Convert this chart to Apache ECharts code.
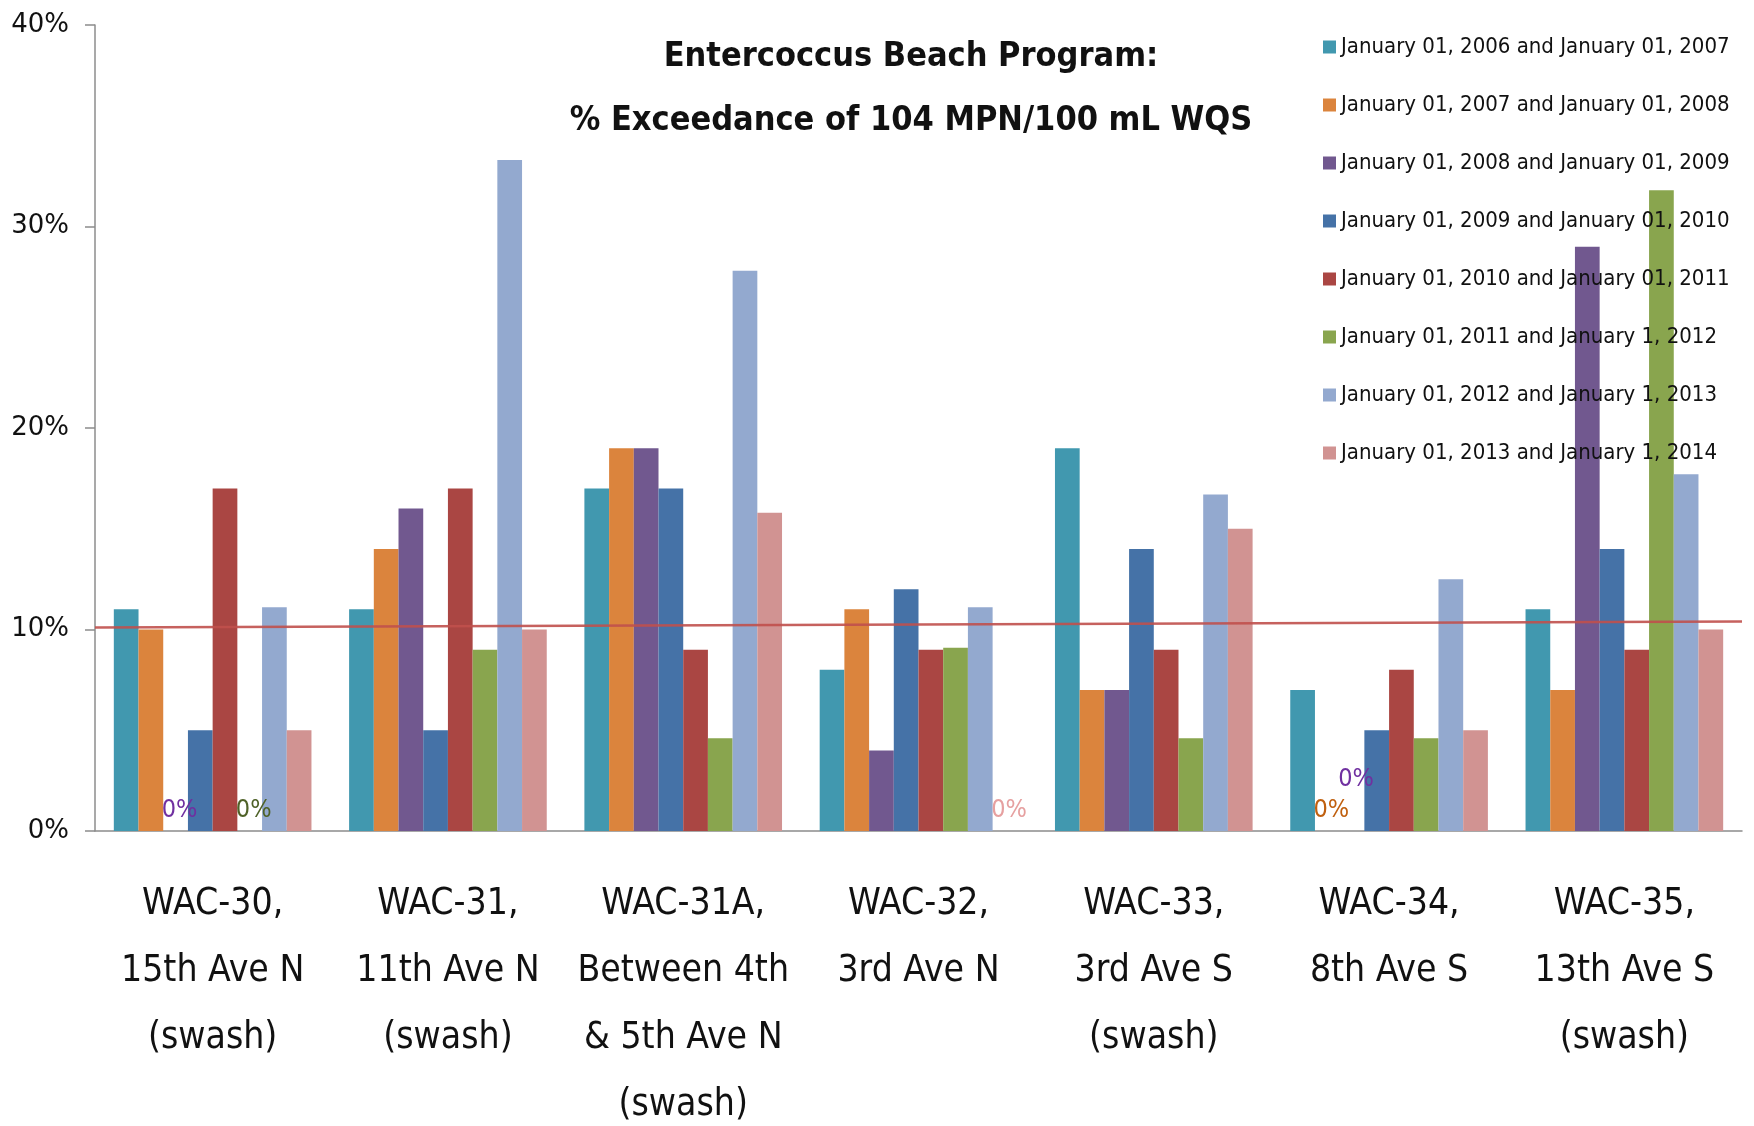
<!DOCTYPE html>
<html>
<head>
<meta charset="utf-8">
<script src="https://cdn.jsdelivr.net/npm/echarts@6/dist/echarts.min.js"></script>
<style>
  html, body { margin: 0; padding: 0; background: #fff; }
  #main { width: 1754px; height: 1126px; }
</style>
</head>
<body>
<div id="main"></div>
<script>
var chart = echarts.init(document.getElementById('main'));

var narrow = "'Liberation Sans Narrow', 'DejaVu Sans Condensed', sans-serif";

// sites on the x axis
var sites = [
    'WAC-30,\n15th Ave N\n(swash)',
    'WAC-31,\n11th Ave N\n(swash)',
    'WAC-31A,\nBetween 4th\n& 5th Ave N\n(swash)',
    'WAC-32,\n3rd Ave N',
    'WAC-33,\n3rd Ave S\n(swash)',
    'WAC-34,\n8th Ave S',
    'WAC-35,\n13th Ave S\n(swash)'
];

var periods = [
    'January 01, 2006 and January 01, 2007',
    'January 01, 2007 and January 01, 2008',
    'January 01, 2008 and January 01, 2009',
    'January 01, 2009 and January 01, 2010',
    'January 01, 2010 and January 01, 2011',
    'January 01, 2011 and January 1, 2012',
    'January 01, 2012 and January 1, 2013',
    'January 01, 2013 and January 1, 2014'
];

// % exceedance, one array per period (order = sites)
var p2006 = [11, 11, 17, 8, 19, 7, 11];
var p2007 = [10, 14, 19, 11, 7, 0, 7];
var p2008 = [0, 16, 19, 4, 7, 0, 29];
var p2009 = [5, 5, 17, 12, 14, 5, 14];
var p2010 = [17, 17, 9, 9, 9, 8, 9];
var p2011 = [0, 9, 4.6, 9.1, 4.6, 4.6, 31.8];
var p2012 = [11.1, 33.3, 27.8, 11.1, 16.7, 12.5, 17.7];
var p2013 = [5, 10, 15.8, 0, 15, 5, 10];
var values = [p2006, p2007, p2008, p2009, p2010, p2011, p2012, p2013];

// standard line (left end, right end)
var wqsLine = [10.1, 10.4];

var colors = ['#4198AF', '#DB843D', '#71588F', '#4572A7', '#AA4643', '#89A54E', '#93A9CF', '#D19392'];
// colour of the "0%" labels for each period
var zeroColors = ['#4198AF', '#C0600F', '#7030A0', '#4572A7', '#AA4643', '#4F6228', '#93A9CF', '#E6A0A0'];

var series = [];
for (var i = 0; i < values.length; i++) {
    var data = values[i].map(function (v, k) {
        if (v !== 0) return v;
        var lift = (i === 2 && k === 5) ? -31 : 0;
        return {
            value: 0,
            label: {
                show: true,
                position: 'top',
                distance: 8,
                offset: [4, lift],
                formatter: '0%',
                color: zeroColors[i],
                fontFamily: narrow,
                fontSize: 25
            }
        };
    });
    series.push({
        name: periods[i],
        type: 'bar',
        data: data,
        barGap: '0%',
        barCategoryGap: '16%',
        itemStyle: { color: colors[i] }
    });
}

series.push({
    name: 'WQS',
    type: 'line',
    xAxisIndex: 1,
    data: [[0, wqsLine[0]], [1, wqsLine[1]]],
    symbol: 'none',
    silent: true,
    z: 5,
    lineStyle: { color: '#C0504D', width: 2.5, opacity: 0.9 }
});

var option = {
    backgroundColor: '#fff',
    animation: false,
    color: colors,
    title: {
        text: 'Entercoccus Beach Program:\n% Exceedance of 104 MPN/100 mL WQS',
        left: 906,
        top: 20,
        textAlign: 'center',
        textStyle: {
            fontFamily: narrow,
            fontWeight: 'bold',
            fontSize: 34,
            lineHeight: 64,
            color: '#111'
        }
    },
    legend: {
        data: periods,
        orient: 'vertical',
        left: 1318,
        top: 27,
        itemWidth: 13,
        itemHeight: 13,
        itemGap: 28,
        icon: 'rect',
        textStyle: {
            fontFamily: narrow,
            fontSize: 22,
            lineHeight: 30,
            color: '#111',
            padding: [0, 0, 0, 0]
        }
    },
    grid: {
        left: 95,
        right: 12,
        top: 25,
        bottom: 295,
        outerBoundsMode: 'none',
        containLabel: false
    },
    xAxis: [{
        type: 'category',
        data: sites,
        axisLine: { lineStyle: { color: '#8c8c8c', width: 1.5 } },
        axisTick: { length: 15, lineStyle: { color: '#8c8c8c', width: 1.5 } },
        axisLabel: {
            interval: 0,
            margin: 40,
            fontFamily: narrow,
            fontSize: 37,
            lineHeight: 67,
            color: '#111'
        }
    }, {
        type: 'value',
        min: 0,
        max: 1,
        show: false
    }],
    yAxis: {
        type: 'value',
        min: 0,
        max: 40,
        interval: 10,
        splitLine: { show: false },
        axisLine: { show: true, lineStyle: { color: '#8c8c8c', width: 1.5 } },
        axisTick: { show: true, length: 10, lineStyle: { color: '#8c8c8c', width: 1.5 } },
        axisLabel: {
            formatter: '{value}%',
            margin: 26,
            fontFamily: "'DejaVu Sans', sans-serif",
            fontSize: 26,
            color: '#111'
        }
    },
    series: series
};

chart.setOption(option);
window.addEventListener('resize', function () { chart.resize(); });
</script>
</body>
</html>
